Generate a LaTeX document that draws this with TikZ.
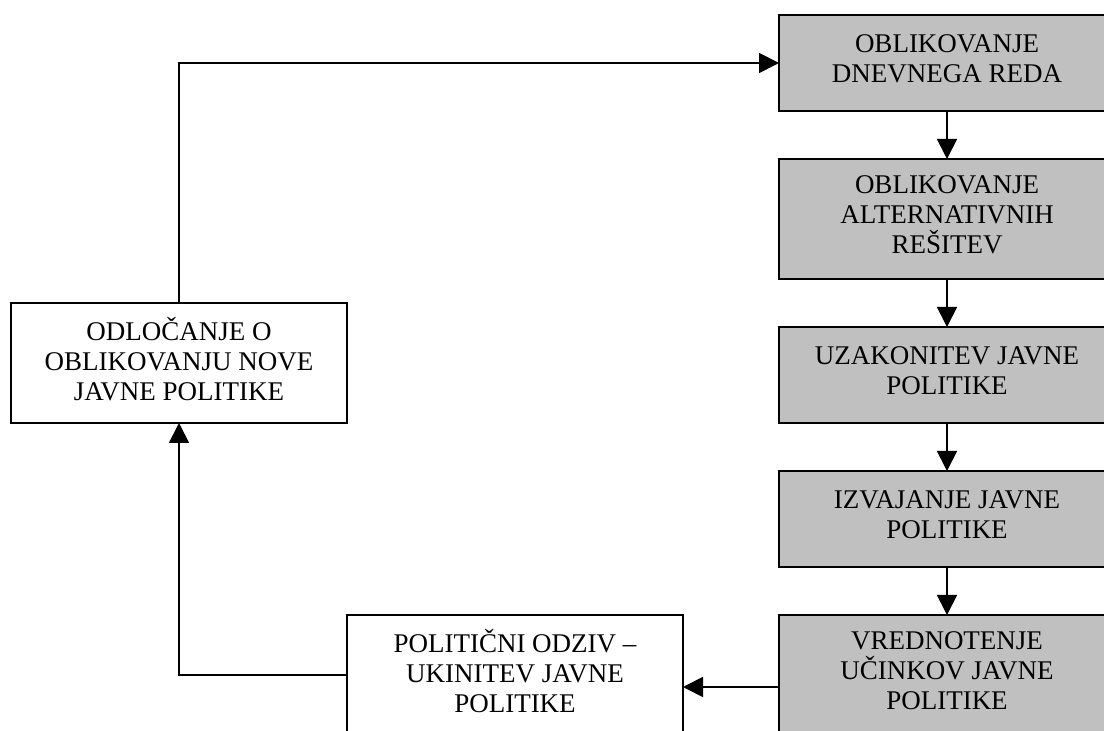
\documentclass[tikz,border=0pt]{standalone}
\usepackage{fontspec}
\setmainfont{Liberation Serif}
\usetikzlibrary{arrows.meta,positioning}
\definecolor{stagegray}{RGB}{192,192,192}
\tikzset
{
    stagenode/.style = {rectangle, draw=black, fill=stagegray, align=center, minimum width=168pt, minimum height=48pt, line width=0.9pt, outer sep=0pt, text depth=4pt, font=\fontsize{13.5pt}{15pt}\selectfont},
    choicenode/.style = {rectangle, draw=black, fill=white, align=center, minimum width=168pt, minimum height=60pt, line width=0.9pt, outer sep=0pt, text depth=4pt, font=\fontsize{13.5pt}{15pt}\selectfont},
    flow/.style = {line width=0.9pt, -{Triangle[length=10pt,width=10pt]}}
}

\begin{document}
\begin{tikzpicture}[node distance=24pt]
	\useasboundingbox (0,0) rectangle (552pt,-365.5pt);
	% cycle of stages
	\node[stagenode] (dnevni) at (473.5pt,-31.5pt) {OBLIKOVANJE\\DNEVNEGA REDA};
	\node[stagenode, minimum height=60pt, below=of dnevni] (resitve) {OBLIKOVANJE\\ALTERNATIVNIH\\REŠITEV};
	\node[stagenode, below=of resitve] (uzakonitev) {UZAKONITEV JAVNE\\POLITIKE};
	\node[stagenode, below=of uzakonitev] (izvajanje) {IZVAJANJE JAVNE\\POLITIKE};
	\node[stagenode, minimum height=60pt, below=of izvajanje] (vrednotenje) {VREDNOTENJE\\UČINKOV JAVNE\\POLITIKE};
	% feedback
	\node[choicenode, left=48pt of vrednotenje.north west, anchor=north east] (odziv) {POLITIČNI ODZIV –\\UKINITEV JAVNE\\POLITIKE};
	\node[choicenode] (odlocanje) at (89.5pt,-181.5pt) {ODLOČANJE O\\OBLIKOVANJU NOVE\\JAVNE POLITIKE};
	\coordinate (izhod) at ([yshift=-6pt]vrednotenje.west);

	\draw[flow] (dnevni) -- (resitve);
	\draw[flow] (resitve) -- (uzakonitev);
	\draw[flow] (uzakonitev) -- (izvajanje);
	\draw[flow] (izvajanje) -- (vrednotenje);
	\draw[flow] (izhod) -- (izhod -| odziv.east);
	\draw[flow] (odziv.west) -| (odlocanje.south);
	\draw[flow] (odlocanje.north) |- (dnevni.west);
\end{tikzpicture}
\end{document}
